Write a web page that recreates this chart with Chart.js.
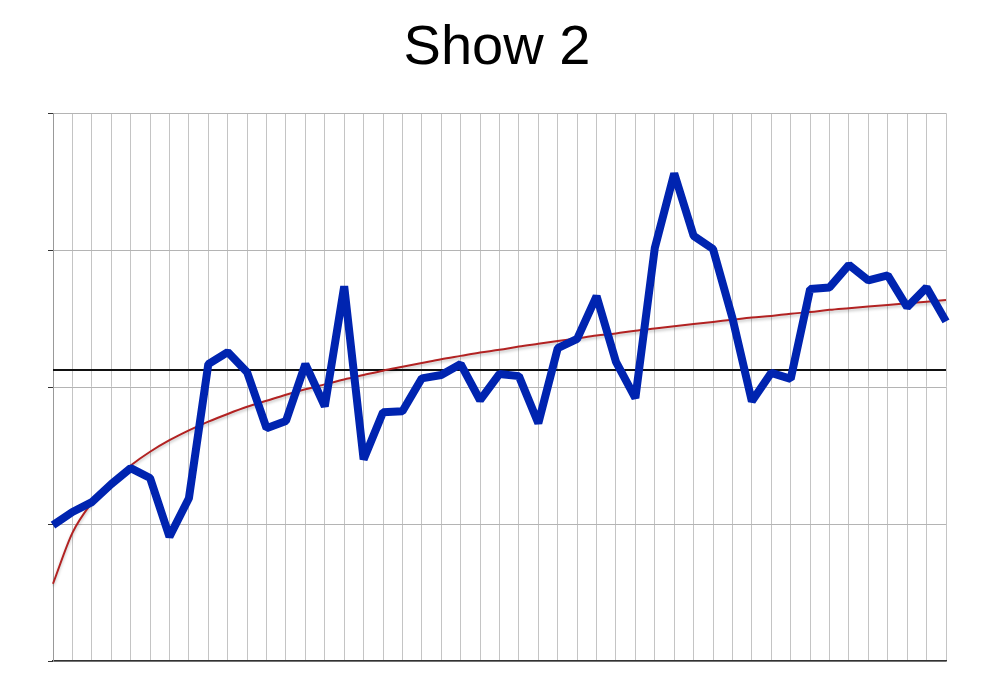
<!DOCTYPE html>
<html>
<head>
<meta charset="utf-8">
<script src="https://cdn.jsdelivr.net/npm/chart.js@4/dist/chart.umd.min.js"></script>
<style>
    html, body { margin: 0; padding: 0; background: #fff; }
    #wrap { width: 1000px; height: 689px; }
</style>
</head>
<body>
<div id="wrap"><canvas id="chart" width="1000" height="689"></canvas></div>
<script>
// values (y scale 0..100, no labels shown)
const labels = [];
for (let i = 1; i <= 47; i++) labels.push(String(i));

const seriesValues = [
    24.8, 27.2, 29.0, 32.3, 35.2, 33.4, 22.7, 29.7, 54.2, 56.4,
    52.7, 42.5, 43.8, 54.2, 46.5, 68.4, 36.8, 45.4, 45.6, 51.6,
    52.2, 54.2, 47.6, 52.4, 52.0, 43.4, 57.1, 58.8, 66.6, 54.6,
    48.0, 75.4, 89.0, 77.6, 75.2, 62.6, 47.4, 52.6, 51.5, 67.9,
    68.2, 72.3, 69.5, 70.4, 64.6, 68.2, 62.0
];

const trendValues = [
    14.1, 23.4, 28.9, 32.7, 35.7, 38.2, 40.3, 42.1, 43.7, 45.1,
    46.4, 47.5, 48.6, 49.6, 50.5, 51.4, 52.2, 53.0, 53.7, 54.4,
    55.1, 55.7, 56.3, 56.8, 57.4, 57.9, 58.4, 58.9, 59.4, 59.8,
    60.3, 60.7, 61.1, 61.5, 61.9, 62.3, 62.7, 63.0, 63.4, 63.7,
    64.1, 64.4, 64.7, 65.0, 65.3, 65.6, 65.9
];

const meanValue = 53.1;
const yTicks = [0, 25, 50, 75, 100];

// soft shadow under the trend line
const shadowPlugin = {
    id: 'trendShadow',
    beforeDatasetDraw(chart, args) {
        if (args.index !== 1) return;
        const ctx = chart.ctx;
        ctx.save();
        ctx.shadowColor = 'rgba(0,0,0,0.25)';
        ctx.shadowBlur = 3;
        ctx.shadowOffsetY = 2;
    },
    afterDatasetDraw(chart, args) {
        if (args.index !== 1) return;
        chart.ctx.restore();
    }
};

const ctx = document.getElementById('chart').getContext('2d');
new Chart(ctx, {
    type: 'line',
    data: {
        labels: labels,
        datasets: [
            {
                label: 'Mean',
                data: labels.map(() => meanValue),
                borderColor: '#111',
                borderWidth: 2,
                pointRadius: 0,
                order: 3
            },
            {
                label: 'Trend',
                data: trendValues,
                borderColor: '#b22222',
                borderWidth: 2,
                pointRadius: 0,
                cubicInterpolationMode: 'monotone',
                order: 2
            },
            {
                label: 'Show 2',
                data: seriesValues,
                borderColor: '#0024b0',
                borderWidth: 8,
                borderJoinStyle: 'bevel',
                pointRadius: 0,
                tension: 0,
                order: 1
            }
        ]
    },
    options: {
        responsive: false,
        animation: false,
        layout: {
            padding: { left: 48, right: 54, top: 0, bottom: 28 }
        },
        plugins: {
            legend: { display: false },
            tooltip: { enabled: false },
            title: {
                display: true,
                text: 'Show 2',
                color: '#000',
                font: { family: 'Liberation Sans', size: 56, weight: 'normal' },
                padding: { top: 15, bottom: 31 }
            }
        },
        scales: {
            x: {
                offset: false,
                ticks: { display: false },
                grid: {
                    color: '#c4c4c4',
                    lineWidth: 1,
                    drawTicks: false
                },
                border: { color: '#333', width: 1.5 }
            },
            y: {
                min: yTicks[0],
                max: yTicks[yTicks.length - 1],
                afterBuildTicks(scale) {
                    scale.ticks = yTicks.map(v => ({ value: v }));
                },
                ticks: { display: false },
                grid: {
                    color: '#b4b4b4',
                    lineWidth: 1,
                    drawTicks: true,
                    tickLength: 5,
                    tickColor: '#333'
                },
                border: { color: '#999', width: 1 }
            }
        }
    },
    plugins: [shadowPlugin]
});
</script>
</body>
</html>
